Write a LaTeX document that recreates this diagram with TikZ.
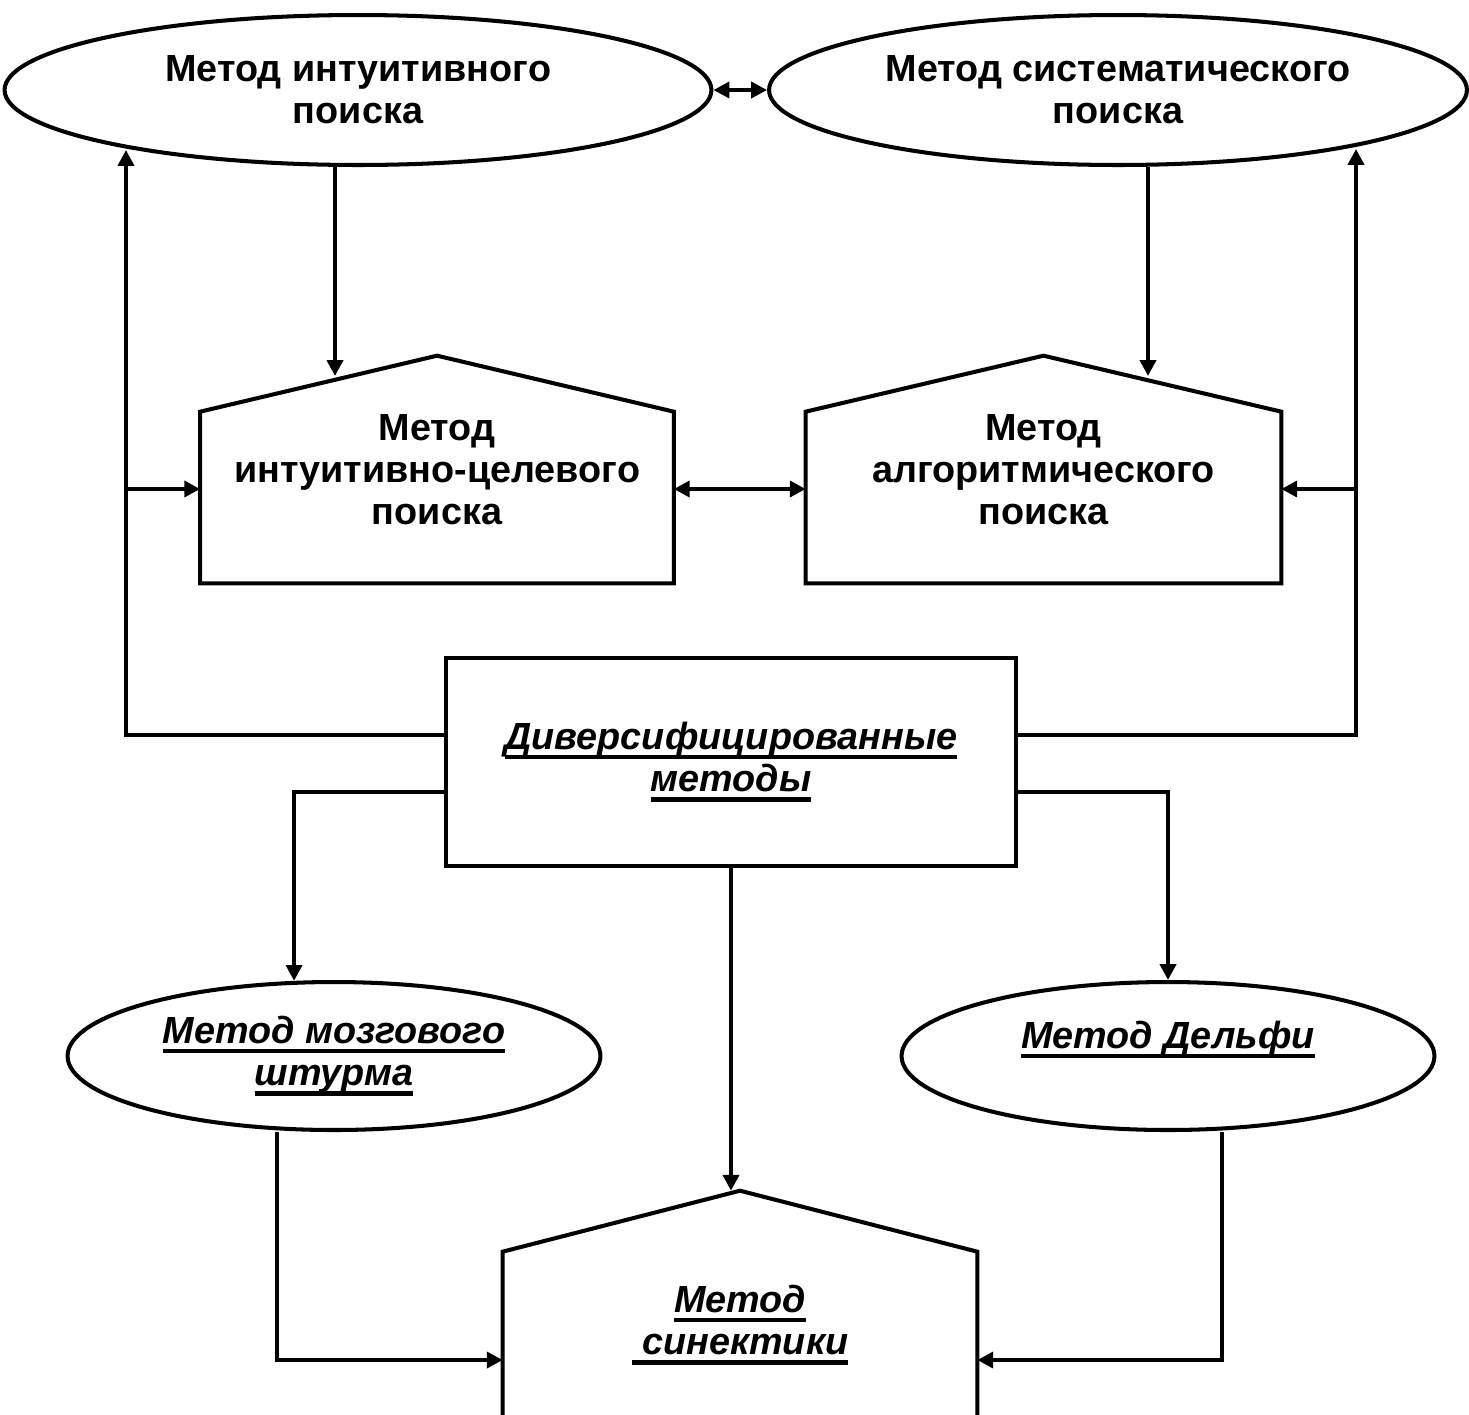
\documentclass[tikz,border=0pt]{standalone}
\usepackage{fontspec}
\setmainfont{Liberation Sans}
\usetikzlibrary{arrows.meta,positioning,shapes.geometric,calc}

% underline with a thick rule below the baseline
\newcommand{\uln}[1]{\setbox0\hbox{#1}\rlap{\rule[-5.5pt]{\wd0}{2.5pt}}\box0}

\begin{document}
\begin{tikzpicture}[
    x=0.02cm, y=-0.02cm,
    >={Triangle[length=9pt,width=9pt]},
    oval/.style={
      ellipse,
      draw=black,
      line width=2.3pt,
      inner sep=0pt,
      align=center,
      font=\fontsize{21.5}{24}\selectfont\bfseries
    },
    house/.style={
      rectangle,
      inner sep=0pt,
      minimum width=9.46cm,
      align=center,
      font=\fontsize{21.5}{24}\selectfont\bfseries
    },
    box/.style={
      rectangle,
      draw=black,
      line width=2.3pt,
      minimum width=11.4cm,
      minimum height=4.16cm,
      align=center
    },
    itl/.style={font=\fontsize{21.5}{24}\selectfont\bfseries\itshape},
    walls/.style={draw=black, line width=2.3pt, line join=miter},
    arrow/.style={->, line width=2.3pt},
    twoway/.style={<->, line width=2.3pt}
  ]

  \useasboundingbox (0,0) rectangle (1469,1414);
  \clip (0,0) rectangle (1469,1414);

  % top row
  \node[oval, minimum width=14.14cm, minimum height=3cm] (intl) at (358,90) {Метод интуитивного\\поиска};
  \node[oval, minimum width=13.96cm, minimum height=3cm] (sys) at (1118,90) {Метод систематического\\поиска};

  % middle row
  \node[house, minimum height=4.54cm] (intc) at (437,469.5) {Метод\\интуитивно-целевого\\поиска};
  \node[house, minimum height=4.54cm, minimum width=9.5cm] (alg) at (1043.5,469.5) {Метод\\алгоритмического\\поиска};
  \node[box, itl] (div) at (731,762) {\uln{Диверсифицированные}\\\uln{методы}};

  % bottom row
  \node[oval, itl, minimum width=10.66cm, minimum height=2.96cm] (brain) at (334,1056) {\uln{Метод мозгового}\\\uln{штурма}};
  \node[oval, itl, minimum width=10.66cm, minimum height=2.96cm] (delphi) at (1168,1056) {\uln{Метод Дельфи}\\\mbox{}};
  \node[house, itl, minimum height=5.36cm, minimum width=9.48cm] (syn) at (740,1325) {\uln{Метод}\\\uln{\ синектики}};

  \foreach \n/\r in {intc/1.12cm, alg/1.12cm, syn/1.22cm}
    \draw[walls] (\n.south west) -- ([yshift=-\r]\n.north west) -- (\n.north)
      -- ([yshift=-\r]\n.north east) -- (\n.south east) -- cycle;

  \coordinate (lrail) at (126,489);
  \coordinate (rrail) at (1356,489);
  \coordinate (lt) at (126,150);
  \coordinate (rt) at (1356,149);
  \coordinate (r1) at (335,376);
  \coordinate (r2) at (1148,376);
  \coordinate (bl) at (277,1360);
  \coordinate (br) at (1222,1360);

  \draw[twoway] (intl.east) -- (sys.west);
  \draw[arrow] (r1 |- intl.south) -- (r1);
  \draw[arrow] (r2 |- sys.south) -- (r2);
  \draw[arrow] ([yshift=0.54cm]div.west) -| (lt);
  \draw[arrow] ([yshift=0.54cm]div.east) -| (rt);
  \draw[arrow] (lrail) -- (lrail -| intc.west);
  \draw[arrow] (rrail) -- (rrail -| alg.east);
  \draw[twoway] (intc.east |- lrail) -- (alg.west |- lrail);

  \draw[arrow] ([yshift=-0.6cm]div.west) -| (brain.118);
  \draw[arrow] ([yshift=-0.6cm]div.east) -| (delphi.north);
  \draw[arrow] (div.south) -- (div.south |- syn.north);
  \draw[arrow] (bl |- brain.south) |- (syn.west |- bl);
  \draw[arrow] (br |- delphi.south) |- (syn.east |- br);

\end{tikzpicture}
\end{document}
